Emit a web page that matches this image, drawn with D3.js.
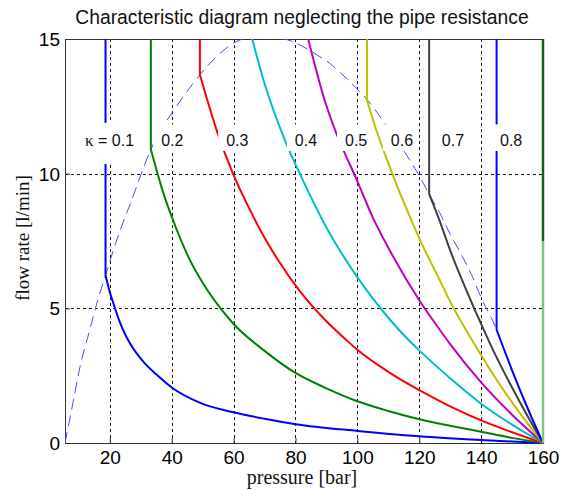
<!DOCTYPE html>
<html>
<head>
<meta charset="utf-8">
<script src="https://cdn.jsdelivr.net/npm/d3@7"></script>
<style>
  body { margin: 0; background: #fff; }
  svg { display: block; font-family: 'Liberation Sans', Arial, sans-serif; }
  .grid line { stroke: #111; stroke-dasharray: 3,3; }
</style>
</head>
<body>
<svg id="chart" width="566" height="490"></svg>
<script>
// ---- data ----
const pressureTicks = [20, 40, 60, 80, 100, 120, 140, 160];
const flowTicks = [0, 5, 10, 15];
const flowTop = 15;

const kappas = ['0.1', '0.2', '0.3', '0.4', '0.5', '0.6', '0.7', '0.8'];

// pressure where each curve stands vertical (null = leaves the top directly)
const verticalPressure = [18.6, 33.25, 49.1, null, null, 103.1, 123.2, 145];

const k01Pressure = [18.6, 20, 21.1, 23.2, 25, 26.5, 30.8, 35, 40, 49, 60, 70, 80, 100, 120, 140, 160];
const k01Flow     = [6.23, 5.6, 5.2, 4.5, 4.02, 3.7, 3.02, 2.55, 2.06, 1.5, 1.14, 0.9, 0.7, 0.45, 0.25, 0.11, 0];
const k02Pressure = [33.25, 37.8, 40, 45.85, 50, 56.1, 60, 70, 80, 90, 100, 110, 120, 140, 150, 160];
const k02Flow     = [10.9, 9.1, 8.4, 6.8, 5.95, 4.95, 4.42, 3.42, 2.6, 2.03, 1.55, 1.19, 0.88, 0.42, 0.19, 0];
const k03Pressure = [49.1, 55, 60, 65, 70, 73.9, 81.4, 90, 95.9, 100, 110, 120, 130, 140, 150, 160];
const k03Flow     = [13.67, 11.45, 9.95, 8.72, 7.62, 6.88, 5.64, 4.52, 3.88, 3.46, 2.64, 1.96, 1.36, 0.84, 0.4, 0];
const k04Pressure = [66, 70, 77.1, 81.4, 90, 100, 110, 115.9, 120, 130, 140, 150, 160];
const k04Flow     = [15, 13.35, 11.1, 10.0, 8.0, 6.15, 4.65, 3.9, 3.44, 2.4, 1.46, 0.68, 0];
const k05Pressure = [84.1, 89.5, 93.2, 95.6, 99.7, 105, 110, 120, 126.6, 130, 140, 150, 160];
const k05Flow     = [15, 12.7, 11.5, 10.85, 9.8, 8.37, 7.25, 5.3, 4.21, 3.67, 2.25, 1.05, 0];
const k06Pressure = [103.1, 106, 110, 112.1, 115, 120, 126.6, 130, 139, 145, 150, 155, 160];
const k06Flow     = [12.73, 11.66, 10.39, 9.76, 8.93, 7.6, 6.05, 5.25, 3.45, 2.35, 1.51, 0.73, 0];
const k07Pressure = [123.2, 126.6, 130, 135, 140, 143.9, 150, 155, 160];
const k07Flow     = [9.25, 8.25, 7.15, 5.73, 4.42, 3.44, 2.06, 1.0, 0];
const k08Pressure = [145, 150, 155, 160];
const k08Flow     = [4.21, 2.7, 1.3, 0];

const seriesPressure = [k01Pressure, k02Pressure, k03Pressure, k04Pressure, k05Pressure, k06Pressure, k07Pressure, k08Pressure];
const seriesFlow = [k01Flow, k02Flow, k03Flow, k04Flow, k05Flow, k06Flow, k07Flow, k08Flow];

// dashed envelope through the corners
const envelopePressure = [5.5, 8, 10.3, 13.5, 16.2, 18.7, 21.1, 24.3, 27, 30, 33.25, 37.2, 40, 44, 49.1, 55, 59.8, 64.2, 69.5, 74.9, 79.2, 83.5, 87.9, 91, 95, 99.7, 103.3, 108.9, 115.9, 119.6, 123.6, 126.6, 130, 133.1, 136.9, 140.1, 143.9, 145];
const envelopeFlow     = [0, 1.45, 2.8, 4.2, 5.35, 6.25, 7.15, 8.2, 9.0, 9.95, 10.9, 11.75, 12.25, 12.9, 13.67, 14.4, 14.84, 15.05, 15.2, 15.05, 14.9, 14.65, 14.34, 14.1, 13.7, 13.17, 12.73, 11.87, 10.69, 10.0, 9.15, 8.55, 7.75, 7.1, 6.25, 5.37, 4.5, 4.21];

// green line sitting on the right edge
const edgePressure = 160;
const edgeUpperFlow = [15, 7.5];
const edgeLowerFlow = [7.5, 0];

// label anchors
const labelPressure = [11.96, 36.6, 57.6, 79.8, 96.0, 110.8, 127.3, 146.1];
const labelFlow = 11.03;

// ---- styles ----
const seriesColors = ['#0000ff', '#008000', '#ff0000', '#00bfbf', '#bf00bf', '#bfbf00', '#404040', '#0000ff'];
const sans = "'Liberation Sans', Arial, sans-serif";
const serif = "'Liberation Serif', 'Times New Roman', serif";
const tickFont = 19;

const svg = d3.select('svg#chart');
const margin = { top: 39, left: 65 };
const innerWidth = 478;
const innerHeight = 404;

const x = d3.scaleLinear().domain([5.5, 160]).range([margin.left, margin.left + innerWidth]);
const y = d3.scaleLinear().domain([0, flowTop]).range([margin.top + innerHeight, margin.top]);
const crisp = v => Math.round(v) + 0.5;

svg.append('defs').append('clipPath').attr('id', 'plot-clip')
  .append('rect')
    .attr('x', margin.left)
    .attr('y', margin.top)
    .attr('width', innerWidth + 4)
    .attr('height', innerHeight + 2);

// grid
const grid = svg.append('g').attr('class', 'grid');
grid.selectAll('.vgrid').data(pressureTicks.filter(d => d < 160))
  .enter().append('line')
    .attr('x1', d => crisp(x(d))).attr('x2', d => crisp(x(d)))
    .attr('y1', y(flowTop)).attr('y2', y(0));
grid.selectAll('.hgrid').data(flowTicks.filter(d => d > 0 && d < flowTop))
  .enter().append('line')
    .attr('x1', x.range()[0]).attr('x2', x.range()[1])
    .attr('y1', d => crisp(y(d))).attr('y2', d => crisp(y(d)));

// axes
const xAxis = d3.axisBottom(x).tickValues(pressureTicks).tickSize(-5).tickPadding(7.5);
const yAxis = d3.axisLeft(y).tickValues(flowTicks).tickSize(-5).tickPadding(5);

const styleAxis = (g, dyPx, anchor) => {
  g.select('.domain').remove();
  g.attr('font-size', tickFont).attr('font-family', sans);
  g.selectAll('.tick line').attr('stroke', '#333');
  g.selectAll('.tick text')
      .attr('fill', '#000')
      .attr('dy', dyPx)
      .attr('font-size', tickFont)
      .attr('font-family', sans)
      .attr('text-anchor', anchor);
};

svg.append('g')
    .attr('transform', `translate(0,${crisp(y(0)) - 0.5})`)
    .call(xAxis)
    .call(styleAxis, 0.71 * tickFont, 'middle');
svg.append('g')
    .attr('transform', `translate(${crisp(x(5.5)) - 0.5},0)`)
    .call(yAxis)
    .call(styleAxis, 0.34 * tickFont, 'end');

svg.append('rect')
    .attr('x', crisp(x(5.5)))
    .attr('y', crisp(y(flowTop)))
    .attr('width', Math.round(x(160)) - Math.round(x(5.5)))
    .attr('height', Math.round(y(0)) - Math.round(y(flowTop)))
    .attr('fill', 'none')
    .attr('stroke', '#333')
    .attr('stroke-width', 1);

// curves
const plot = svg.append('g').attr('clip-path', 'url(#plot-clip)');
const line = d3.line()
  .x(d => x(d[0]))
  .y(d => y(d[1]))
  .curve(d3.curveMonotoneX);

plot.append('path')
    .attr('d', line(envelopePressure.map((p, i) => [p, envelopeFlow[i]])))
    .attr('fill', 'none')
    .attr('stroke', '#4a4aff')
    .attr('stroke-width', 1)
    .attr('stroke-dasharray', '11,6');

kappas.forEach((k, i) => {
  const pts = seriesPressure[i].map((p, j) => [p, seriesFlow[i][j]]);
  let d = line(pts);
  if (verticalPressure[i] !== null) {
    d = `M${x(verticalPressure[i])},${y(flowTop)}L` + d.slice(1);
  }
  plot.append('path')
      .attr('d', d)
      .attr('fill', 'none')
      .attr('stroke', seriesColors[i])
      .attr('stroke-width', 2)
      .attr('stroke-linejoin', 'round');
});

plot.append('line')
    .attr('x1', x(edgePressure)).attr('x2', x(edgePressure))
    .attr('y1', y(edgeUpperFlow[0])).attr('y2', y(edgeUpperFlow[1]))
    .attr('stroke', '#1d5a1d').attr('stroke-width', 2.5);
plot.append('line')
    .attr('x1', x(edgePressure)).attr('x2', x(edgePressure))
    .attr('y1', y(edgeLowerFlow[0])).attr('y2', y(edgeLowerFlow[1]))
    .attr('stroke', '#80c480').attr('stroke-width', 2.5);

// kappa labels on white boxes
kappas.forEach((k, i) => {
  const g = svg.append('g');
  const bx = x(labelPressure[i]);
  const by = y(labelFlow);
  const text = g.append('text')
      .attr('x', bx)
      .attr('y', by)
      .attr('font-family', sans)
      .attr('font-size', 16)
      .attr('fill', '#111');
  if (i === 0) {
    text.append('tspan').attr('font-family', serif).attr('font-size', 17).text('κ');
    text.append('tspan').text(' = ' + k);
  } else {
    text.text(k);
  }
  const bb = text.node().getBBox();
  const top = i === 0 ? by - 23 : by - 21.5;
  const bottom = i === 0 ? by + 18 : by + 5;
  g.insert('rect', 'text')
      .attr('x', bb.x - 8)
      .attr('y', top)
      .attr('width', bb.width + 11)
      .attr('height', bottom - top)
      .attr('fill', '#fff');
});

// titles
svg.append('text')
    .attr('x', 302)
    .attr('y', 24)
    .attr('text-anchor', 'middle')
    .attr('font-family', sans)
    .attr('font-size', 19.3)
    .attr('fill', '#111')
    .text('Characteristic diagram neglecting the pipe resistance');

svg.append('text')
    .attr('x', 302)
    .attr('y', 484)
    .attr('text-anchor', 'middle')
    .attr('font-family', serif)
    .attr('font-size', 20)
    .attr('fill', '#111')
    .text('pressure [bar]');

svg.append('text')
    .attr('transform', 'translate(28.5,238) rotate(-90)')
    .attr('text-anchor', 'middle')
    .attr('font-family', serif)
    .attr('font-size', 19)
    .attr('fill', '#111')
    .text('flow rate [l/min]');
</script>
</body>
</html>
